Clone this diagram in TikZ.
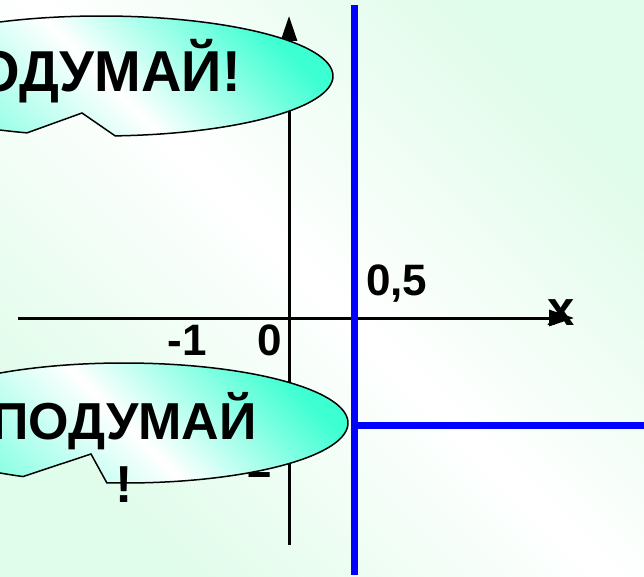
\documentclass[tikz,border=0pt]{standalone}
\usepackage{fontspec}
\setmainfont{Liberation Sans}
\usetikzlibrary{arrows.meta}
\definecolor{aqua}{RGB}{60,255,210}
\definecolor{mint}{RGB}{224,252,234}
\definecolor{pureblue}{RGB}{0,0,255}
\begin{document}
\begin{tikzpicture}[x=1pt,y=1pt,
  axis/.style={line width=3pt,black},
  axisarrow/.style={-{Triangle[length=25pt,width=16pt]}},
  blueline/.style={line width=7pt,pureblue},
  lbl/.style={font=\fontsize{44}{44}\selectfont\bfseries, inner sep=0pt},
  bubble/.style={draw=black,line width=1.5pt,left color=aqua!70!white,right color=aqua,middle color=white,shading angle=135},
  bubtext/.style={inner sep=0pt, align=center}]
\useasboundingbox (0,0) rectangle (644,-577);
\clip (0,0) rectangle (644,-577);
\shade[left color=mint, right color=mint, middle color=white, shading angle=135] (0,0) rectangle (644,-577);
% axes
\coordinate (ybot) at (289,-545);
\coordinate (ytip) at (289,-16);
\coordinate (xl) at (18,-318);
\coordinate (xr) at (574,-318);
\draw[axis,axisarrow] (ybot) -- (ytip);
\draw[axis,axisarrow] (xl) -- (xr);
% labels
\node[lbl, anchor=base west] (half) at (366,-295) {0,5};
\node[lbl, anchor=base east] (m1) at (207,-355) {-1};
\node[lbl, anchor=base east] (zero) at (282,-355) {0};
\node[lbl, anchor=base east] (m2) at (272,-477) {-2};
\node[lbl, font=\fontsize{49}{49}\selectfont\bfseries, anchor=base] (xlab) at (561,-325) {x};
% blue lines
\coordinate (btop) at (354,-5);
\coordinate (bbot) at (354,-575);
\coordinate (bj) at (354,-425);
\coordinate (bright) at (644,-425);
\draw[blueline] (btop) -- (bbot);
\draw[blueline] (bj) -- (bright);
% bubbles
\path[bubble] (101,-76) ++(-86.5:232 and 60) arc[start angle=-86.5, end angle=251.4, x radius=232, y radius=60] -- (82,-113) -- cycle;
\node[bubtext, font=\fontsize{56}{56}\selectfont\bfseries, anchor=base east] (t1) at (241,-92) {\scalebox{1}[1.03]{ПОДУМАЙ!}};
\path[bubble] (124,-423) ++(-94.4:224 and 60) arc[start angle=-94.4, end angle=243.2, x radius=224, y radius=60] -- (91,-454) -- cycle;
\node[bubtext, font=\fontsize{52}{63}\selectfont\bfseries, anchor=base] (t2) at (124,-502) {ПОДУМАЙ\\!};
\end{tikzpicture}
\end{document}
